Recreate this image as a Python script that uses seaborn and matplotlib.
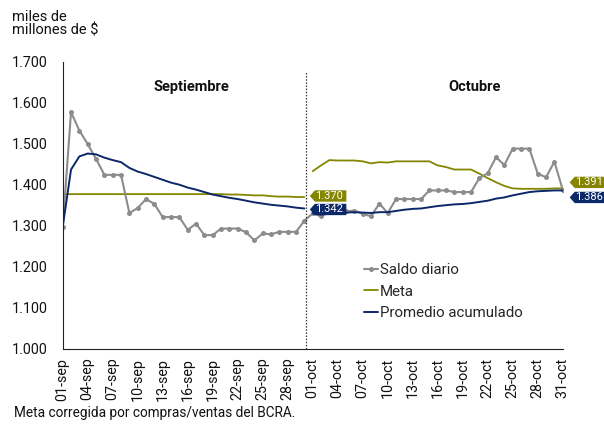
import matplotlib
matplotlib.use("Agg")
import matplotlib.pyplot as plt
import seaborn as sns
import numpy as np
import pandas as pd
from matplotlib.path import Path
from matplotlib.lines import Line2D
from matplotlib.ticker import FuncFormatter

# ---------------- data ----------------
tick_labels = ["01-sep", "04-sep", "07-sep", "10-sep", "13-sep", "16-sep", "19-sep",
               "22-sep", "25-sep", "28-sep", "01-oct", "04-oct", "07-oct", "10-oct",
               "13-oct", "16-oct", "19-oct", "22-oct", "25-oct", "28-oct", "31-oct"]

saldo_sep = [1297, 1577, 1532, 1499, 1463, 1424, 1424, 1424, 1331, 1343,
             1365, 1353, 1321, 1321, 1321, 1290, 1305, 1277, 1277, 1293,
             1293, 1293, 1284, 1264, 1281, 1279, 1285, 1285, 1285, 1312]
saldo_oct = [1330, 1323, 1335, 1335, 1335, 1337, 1329, 1323, 1354, 1331,
             1365, 1365, 1365, 1365, 1386, 1386, 1386, 1382, 1382, 1382,
             1416, 1428, 1467, 1448, 1488, 1488, 1488, 1427, 1418, 1456, 1388]

meta_sep = [1377, 1377, 1377, 1377, 1377, 1377, 1377, 1377, 1377, 1377,
            1377, 1377, 1377, 1377, 1377, 1377, 1377, 1377, 1377, 1377,
            1376, 1376, 1375, 1374, 1374, 1372, 1371, 1371, 1370, 1370]
meta_oct = [1433, 1447, 1460, 1459, 1459, 1459, 1457, 1452, 1455, 1454,
            1457, 1457, 1457, 1457, 1457, 1447, 1443, 1437, 1437, 1437,
            1427, 1416, 1406, 1397, 1391, 1390, 1390, 1390, 1390, 1391, 1391]

prom_sep = [1297, 1437, 1469, 1476, 1474, 1466, 1460, 1455, 1441, 1432,
            1426, 1419, 1412, 1405, 1400, 1393, 1388, 1382, 1376, 1372,
            1368, 1365, 1361, 1357, 1354, 1351, 1349, 1347, 1344, 1342]
prom_oct = [1330, 1327, 1329, 1331, 1332, 1333, 1332, 1331, 1333, 1333,
            1336, 1339, 1341, 1342, 1345, 1348, 1350, 1352, 1353, 1355,
            1358, 1361, 1366, 1369, 1374, 1378, 1382, 1384, 1385, 1386, 1386]

label_meta_sep = "1.370"
label_prom_sep = "1.342"
label_meta_oct = "1.391"
label_prom_oct = "1.386"

# ---------------- style ----------------
sns.set_theme(style="white")
plt.rcParams["font.family"] = ["Roboto", "DejaVu Sans"]

C_GRAY = "#8c8c8c"
C_META = "#858600"
C_PROM = "#0c2868"
FS = 10.3

n_sep = len(saldo_sep)
n_oct = len(saldo_oct)
idx_sep = np.arange(n_sep)
idx_oct = np.arange(n_sep, n_sep + n_oct)
idx_all = np.arange(n_sep + n_oct)
saldo_all = saldo_sep + saldo_oct

W, H = 604, 425
fig = plt.figure(figsize=(W / 100, H / 100), dpi=100)
x0p, x1p, ytop, ybot = 62.7, 562.7, 61.7, 348.7
ax = fig.add_axes([x0p / W, 1 - ybot / H, (x1p - x0p) / W, (ybot - ytop) / H])

lw = 1.3
sns.lineplot(x=idx_sep, y=meta_sep, ax=ax, color=C_META, lw=lw)
sns.lineplot(x=idx_oct, y=meta_oct, ax=ax, color=C_META, lw=lw)
sns.lineplot(x=idx_all, y=saldo_all, ax=ax, color=C_GRAY, lw=1.5,
             marker="o", markersize=3.6, markeredgewidth=0, markerfacecolor=C_GRAY)
sns.lineplot(x=idx_sep, y=prom_sep, ax=ax, color=C_PROM, lw=1.4)
sns.lineplot(x=idx_oct, y=prom_oct, ax=ax, color=C_PROM, lw=1.4)

ax.set_xlim(0, n_sep + n_oct - 1)
ax.set_ylim(1000, 1700)
ax.set_yticks(np.arange(1000, 1701, 100))
ax.yaxis.set_major_formatter(FuncFormatter(lambda v, p: f"{v:,.0f}".replace(",", ".")))
ax.set_xticks(np.arange(0, n_sep + n_oct, 3))
ax.set_xticklabels(tick_labels, rotation=90)
ax.tick_params(axis="y", direction="in", length=3, width=0.8, pad=11, labelsize=FS,
               colors="#222222", labelcolor="#111111")
ax.tick_params(axis="x", direction="in", length=3.5, width=0.8, pad=6.5, labelsize=FS,
               colors="#222222", labelcolor="#111111")
for s in ["top", "right"]:
    ax.spines[s].set_visible(False)
for s in ["left", "bottom"]:
    ax.spines[s].set_color("#222222")
    ax.spines[s].set_linewidth(0.8)
ax.set_xlabel("")
ax.set_ylabel("")

# month separator
ax.vlines(n_sep - 0.85, 1000, 1675, colors="#333333", linestyles=(0, (1.2, 1.3)), lw=0.9)

ax.text(15.5, 1639, "Septiembre", ha="center", va="center", fontsize=FS + 0.2,
        fontweight="bold", color="#111111")
ax.text(49.4, 1639, "Octubre", ha="center", va="center", fontsize=FS + 0.2,
        fontweight="bold", color="#111111")


# tag-shaped value labels
def tag_box(x0, y0, width, height, mutation_size):
    padx = 0.28 * mutation_size
    pady = 0.06 * mutation_size
    xa = x0 - padx * 0.15
    xb = x0 + width + padx
    ya = y0 - pady
    yb = y0 + height + pady
    ym = (ya + yb) / 2
    tip = (yb - ya) * 0.45
    verts = [(xa - tip, ym), (xa, ya), (xb, ya), (xb, yb), (xa, yb), (xa - tip, ym)]
    return Path(verts, closed=True)


def value_tag(xi, yv, text, color, dx, dy):
    ax.annotate(text, xy=(xi, yv), xytext=(dx, dy), textcoords="offset pixels",
                ha="left", va="center", fontsize=8.0, color="white",
                bbox=dict(boxstyle=tag_box, fc=color, ec="none"),
                annotation_clip=False, zorder=10)


value_tag(n_sep - 1, meta_sep[-1], label_meta_sep, C_META, 11, 1)
value_tag(n_sep - 1, prom_sep[-1], label_prom_sep, C_PROM, 11, -1)
value_tag(n_sep + n_oct - 1, meta_oct[-1], label_meta_oct, C_META, 12.5, 6)
value_tag(n_sep + n_oct - 1, prom_oct[-1], label_prom_oct, C_PROM, 12.5, -7)

# legend
handles = [
    Line2D([], [], color=C_GRAY, lw=1.5, marker="o", markersize=3.6, markeredgewidth=0),
    Line2D([], [], color=C_META, lw=1.3),
    Line2D([], [], color=C_PROM, lw=1.4),
]
fig.legend(handles, ["Saldo diario", "Meta", "Promedio acumulado"],
           loc="upper left", bbox_to_anchor=(364 / W, 1 - 263 / H),
           frameon=False, fontsize=10.8, handlelength=0.95, handletextpad=0.12,
           labelspacing=0.5, borderpad=0, borderaxespad=0, markerscale=1.0)

fig.text(12 / W, 1 - 10 / H, "miles de\nmillones de $", ha="left", va="top",
         fontsize=FS + 0.2, linespacing=1.0, color="#111111")
fig.text(14 / W, 1 - 413 / H, "Meta corregida por compras/ventas del BCRA.",
         ha="left", va="center", fontsize=9.8, color="#111111")

fig.savefig("out.png", dpi=100)
